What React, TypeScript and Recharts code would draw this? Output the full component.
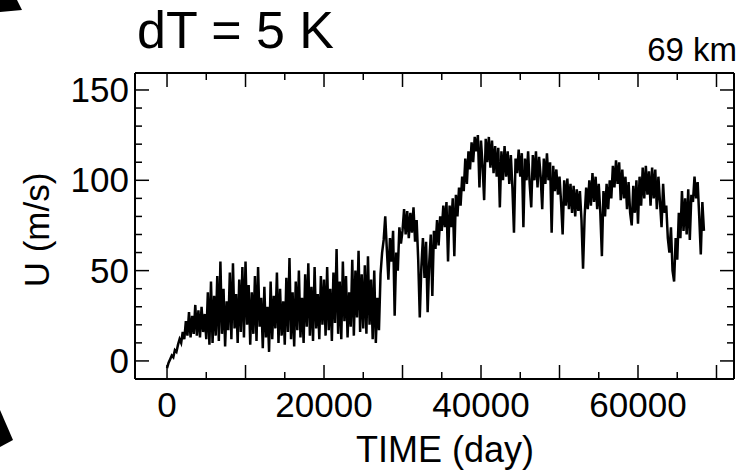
import * as React from 'react';
import { LineChart, Line, XAxis, YAxis } from 'recharts';

// sampling interval of the model output (days)
const SAMPLE_DAYS = 200;

// zonal wind U (m/s), one value per sample
const uWind: number[] = [
  -4, -1, 1, 3, 2, 6, 5, 9, 12, 10, 16, 12, 22, 14, 27, 13, 25, 15, 31, 14, 28, 13, 30, 16, 26,
  12, 38, 9, 44, 10, 36, 14, 47, 11, 55, 15, 40, 8, 33, 17, 49, 12, 54, 18, 37, 10, 45, 16, 52, 13,
  55, 20, 42, 9, 38, 15, 47, 11, 52, 19, 35, 7, 41, 13, 30, 5, 44, 12, 36, 18, 49, 10, 40, 14, 33,
  9, 46, 16, 57, 12, 38, 8, 44, 17, 50, 13, 35, 10, 48, 19, 54, 14, 41, 11, 52, 18, 37, 12, 47, 20,
  45, 14, 52, 17, 40, 11, 49, 21, 62, 15, 44, 12, 55, 22, 47, 13, 38, 19, 56, 14, 50, 24, 61, 16, 48,
  18, 53, 15, 58, 20, 45, 12, 50, 10, 35, 17, 48, 60, 67, 80, 62, 45, 68, 55, 72, 25, 60, 50, 74, 65,
  72, 84, 70, 83, 68, 82, 71, 85, 66, 78, 56, 24, 52, 68, 46, 66, 27, 54, 70, 36, 72, 62, 78, 64, 80,
  72, 86, 74, 88, 55, 86, 74, 90, 58, 92, 80, 96, 86, 102, 94, 112, 98, 116, 106, 121, 110, 124, 116, 125, 96,
  122, 108, 89, 123, 110, 124, 107, 122, 104, 119, 102, 118, 85, 116, 100, 119, 102, 116, 98, 114, 96, 71, 112, 104, 117,
  102, 115, 74, 112, 100, 116, 98, 85, 114, 100, 116, 96, 113, 102, 84, 112, 98, 115, 100, 110, 71, 108, 94, 106, 92,
  102, 88, 70, 100, 86, 101, 84, 98, 82, 97, 80, 95, 83, 94, 78, 51, 80, 96, 84, 100, 86, 104, 88, 102, 84,
  98, 82, 58, 94, 80, 98, 84, 100, 90, 108, 96, 111, 98, 110, 89, 106, 90, 102, 84, 99, 82, 75, 97, 82, 100,
  76, 102, 86, 107, 90, 108, 92, 105, 86, 107, 90, 106, 84, 102, 88, 74, 98, 82, 86, 68, 60, 74, 50, 44, 68,
  56, 82, 68, 94, 72, 90, 70, 95, 67, 92, 88, 102, 90, 99, 80, 59, 88, 72,
];

const timeTicks = [0, 5000, 10000, 15000, 20000, 25000, 30000, 35000, 40000, 45000, 50000, 55000, 60000, 65000, 70000];
const uTicks = [0, 10, 20, 30, 40, 50, 60, 70, 80, 90, 100, 110, 120, 130, 140, 150];

const FONT = '"Liberation Sans", Arial, Helvetica, sans-serif';
const TIME_DOMAIN = [-4080, 72230];
const U_DOMAIN = [-10, 159.4];

const data = uWind.map((u, i) => ({ time: i * SAMPLE_DAYS, u }));

const LONG = 14;
const SHORT = 7;

const BottomTick = (props: any) => {
  const { x, y, payload } = props;
  const v = payload.value;
  const len = v % 10000 === 0 ? LONG : SHORT;
  return (
    <g>
      <line x1={x} y1={y} x2={x} y2={y - len} stroke="#000" strokeWidth={1.5} />
      {v % 20000 === 0 && (
        <text x={x} y={y + 38} textAnchor="middle" fontSize={35} fontFamily={FONT} fill="#000">
          {v}
        </text>
      )}
    </g>
  );
};

const TopTick = (props: any) => {
  const { x, y, payload } = props;
  const len = payload.value % 10000 === 0 ? LONG : SHORT;
  return <line x1={x} y1={y} x2={x} y2={y + len} stroke="#000" strokeWidth={1.5} />;
};

const LeftTick = (props: any) => {
  const { x, y, payload } = props;
  const v = payload.value;
  const len = v % 50 === 0 ? LONG : SHORT;
  return (
    <g>
      <line x1={x} y1={y} x2={x + len} y2={y} stroke="#000" strokeWidth={1.5} />
      {v % 50 === 0 && (
        <text x={x - 6} y={y + 12} textAnchor="end" fontSize={35} fontFamily={FONT} fill="#000">
          {v}
        </text>
      )}
    </g>
  );
};

const RightTick = (props: any) => {
  const { x, y, payload } = props;
  const len = payload.value % 50 === 0 ? LONG : SHORT;
  return <line x1={x} y1={y} x2={x - len} y2={y} stroke="#000" strokeWidth={1.5} />;
};

const axisLine = { stroke: '#000', strokeWidth: 2 };

export default function App() {
  return (
    <div style={{ position: 'absolute', left: 0, top: 0, width: 753, height: 474, background: '#fff' }}>
      <LineChart width={753} height={474} data={data} margin={{ top: 72, right: 18, bottom: 35, left: 75 }}>
        <XAxis xAxisId="bottom" dataKey="time" type="number" domain={TIME_DOMAIN} ticks={timeTicks}
          interval={0} height={60} tickSize={0} tickMargin={0} tickLine={false} axisLine={axisLine}
          tick={(p: any) => <BottomTick {...p} />} allowDataOverflow />
        <XAxis xAxisId="top" orientation="top" dataKey="time" type="number" domain={TIME_DOMAIN} ticks={timeTicks}
          interval={0} height={1} tickSize={0} tickMargin={0} tickLine={false} axisLine={axisLine}
          tick={(p: any) => <TopTick {...p} />} allowDataOverflow />
        <YAxis yAxisId="left" type="number" domain={U_DOMAIN} ticks={uTicks} interval={0} width={60}
          tickSize={0} tickMargin={0} tickLine={false} axisLine={axisLine}
          tick={(p: any) => <LeftTick {...p} />} allowDataOverflow />
        <YAxis yAxisId="right" orientation="right" type="number" domain={U_DOMAIN} ticks={uTicks} interval={0}
          width={1} tickSize={0} tickMargin={0} tickLine={false} axisLine={axisLine}
          tick={(p: any) => <RightTick {...p} />} allowDataOverflow />
        <Line xAxisId="bottom" yAxisId="left" type="linear" dataKey="u" stroke="#000" strokeWidth={2.5}
          strokeLinejoin="miter" dot={false} isAnimationActive={false} />
      </LineChart>
      <svg width={753} height={474} style={{ position: 'absolute', left: 0, top: 0, pointerEvents: 'none' }}>
        <polygon points="0,0 17,0 22,10 0,12" fill="#000" />
        <polygon points="0,410 13,440 0,447" fill="#000" />
        <text x={137} y={48} fontSize={52} fontFamily={FONT} fill="#000">dT = 5 K</text>
        <text x={737} y={61} fontSize={33} fontFamily={FONT} textAnchor="end" fill="#000">69 km</text>
        <text x={49} y={230} fontSize={35} fontFamily={FONT} textAnchor="middle" fill="#000"
          transform="rotate(-90, 49, 230)">U (m/s)</text>
        <text x={445} y={462} fontSize={36} fontFamily={FONT} textAnchor="middle" fill="#000">TIME (day)</text>
      </svg>
    </div>
  );
}
